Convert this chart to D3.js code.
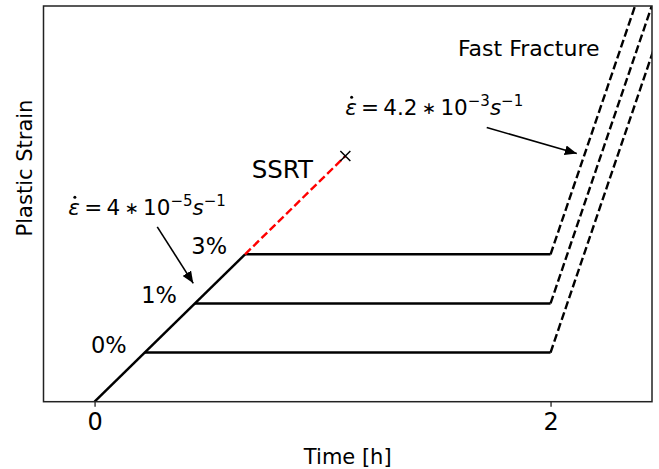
<!DOCTYPE html>
<html>
<head>
<meta charset="utf-8">
<script src="https://cdn.jsdelivr.net/npm/d3@7"></script>
<style>
  body { margin: 0; background: #fff; }
  svg text { font-family: "DejaVu Sans", sans-serif; fill: #000; }
</style>
</head>
<body>
<svg id="chart" width="659" height="469"></svg>
<script>
// Pre-strain levels reached at the slow loading rate, then held until t = 2 h
const levelNames = ["0%", "1%", "3%"];
const levelStrain = [0.22, 0.44, 0.66];
const holdEnd = 2;
const fractureSlope = 3;       // fast fracture loading rate (strain per hour, plot units)
const fractureEnd = 2.6;
const ssrtEnd = 1.1;           // slow strain rate test runs to failure here
const xTicks = [0, 2];
const xTickLabels = ["0", "2"];

// Annotation anchors: [text x, text baseline y, arrow start x, arrow start y, arrow tip x, arrow tip y]
const slowRateNote = [-0.115, 0.835, 0.275, 0.783, 0.433, 0.530];
const fastRateNote = [1.099, 1.283, 1.72, 1.228, 2.115, 1.111];
const ssrtLabel = [0.689, 1.0];
const fastLabel = [1.594, 1.547];

const svg = d3.select("#chart");
const L = 43.5, R = 652, T = 6, B = 401.7;
const x = d3.scaleLinear().domain([-0.224, 2.445]).range([L, R]);
const y = d3.scaleLinear().domain([0, 1.772]).range([B, T]);

svg.append("defs").append("clipPath").attr("id", "plotArea")
  .append("rect").attr("x", L).attr("y", T).attr("width", R - L).attr("height", B - T);

const plot = svg.append("g").attr("clip-path", "url(#plotArea)");
const line = d3.line().x(d => x(d[0])).y(d => y(d[1]));

// slow loading ramp up to the largest pre-strain
const maxLevel = d3.max(levelStrain);
plot.append("path").datum([[0, 0], [maxLevel, maxLevel]])
  .attr("d", line).attr("fill", "none").attr("stroke", "#000").attr("stroke-width", 2.4);

// hold segments
levelStrain.forEach(s => {
  plot.append("path").datum([[s, s], [holdEnd, s]])
    .attr("d", line).attr("fill", "none").attr("stroke", "#000").attr("stroke-width", 2.4);
  // fast fracture ramp
  plot.append("path").datum([[holdEnd, s], [fractureEnd, s + fractureSlope * (fractureEnd - holdEnd)]])
    .attr("d", line).attr("fill", "none").attr("stroke", "#000").attr("stroke-width", 2.4)
    .attr("stroke-dasharray", "8,3.5");
});

// SSRT continuation
plot.append("path").datum([[maxLevel, maxLevel], [ssrtEnd, ssrtEnd]])
  .attr("d", line).attr("fill", "none").attr("stroke", "#ff0000").attr("stroke-width", 2.4)
  .attr("stroke-dasharray", "8,3.5");

// failure marker
const mx = x(ssrtEnd), my = y(ssrtEnd), ms = 5;
svg.append("path")
  .attr("d", `M${mx - ms},${my - ms}L${mx + ms},${my + ms}M${mx - ms},${my + ms}L${mx + ms},${my - ms}`)
  .attr("stroke", "#000").attr("stroke-width", 1.5);

// level labels
levelStrain.forEach((s, i) => {
  svg.append("text").attr("x", x(s) - 18).attr("y", y(s))
    .attr("text-anchor", "end").attr("font-size", 22.5).text(levelNames[i]);
});

// frame
svg.append("rect").attr("x", L).attr("y", T).attr("width", R - L).attr("height", B - T)
  .attr("fill", "none").attr("stroke", "#222").attr("stroke-width", 1.5);

// x axis ticks
const xAxis = d3.axisBottom(x).tickValues(xTicks).tickFormat((d, i) => xTickLabels[i])
  .tickSize(5).tickPadding(6);
const gx = svg.append("g").attr("transform", `translate(0,${B})`).call(xAxis);
gx.select(".domain").remove();
gx.selectAll(".tick line").attr("stroke", "#222").attr("stroke-width", 1.3);
gx.selectAll(".tick text").attr("font-size", 24).attr("font-family", "DejaVu Sans").attr("fill", "#000");

// axis titles
svg.append("text").attr("x", (L + R) / 2).attr("y", 464).attr("text-anchor", "middle")
  .attr("font-size", 21).text("Time [h]");
svg.append("text").attr("transform", "translate(32,168) rotate(-90)").attr("text-anchor", "middle")
  .attr("font-size", 21).text("Plastic Strain");

// arrow head marker
svg.select("defs").append("marker").attr("id", "head")
  .attr("viewBox", "0 0 12 10").attr("refX", 12).attr("refY", 5)
  .attr("markerWidth", 12).attr("markerHeight", 10).attr("markerUnits", "userSpaceOnUse")
  .attr("orient", "auto")
  .append("path").attr("d", "M0,0L12,5L0,10Z").attr("fill", "#000");

// strain-rate formula:  ε̇ = value ∗ 10^exp s^-1
function rateText(note, mant, expo) {
  const g = svg.append("g");
  const t = g.append("text").attr("x", x(note[0])).attr("y", y(note[1])).attr("font-size", 21.5);
  t.append("tspan").attr("font-style", "italic").text("ε");
  t.append("tspan").text("\u2009=\u2009" + mant + "\u2009");
  t.append("tspan").attr("font-size", 17).attr("dy", -1).text("\u2217");
  t.append("tspan").attr("dy", 1).text("\u200910");
  t.append("tspan").attr("font-size", 15).attr("dy", -9).text("−" + expo);
  t.append("tspan").attr("font-style", "italic").attr("dy", 9).text("s");
  t.append("tspan").attr("font-size", 15).attr("dy", -9).text("−1");
  // dot accent over ε
  g.append("circle").attr("cx", x(note[0]) + 6.5).attr("cy", y(note[1]) - 18).attr("r", 1.5).attr("fill", "#000");
  svg.append("line")
    .attr("x1", x(note[2])).attr("y1", y(note[3]))
    .attr("x2", x(note[4])).attr("y2", y(note[5]))
    .attr("stroke", "#000").attr("stroke-width", 1.6).attr("marker-end", "url(#head)");
}
rateText(slowRateNote, "4", "5");
rateText(fastRateNote, "4.2", "3");

svg.append("text").attr("x", x(ssrtLabel[0])).attr("y", y(ssrtLabel[1]))
  .attr("font-size", 24.5).text("SSRT");
svg.append("text").attr("x", x(fastLabel[0])).attr("y", y(fastLabel[1]))
  .attr("font-size", 22).text("Fast Fracture");
</script>
</body>
</html>
